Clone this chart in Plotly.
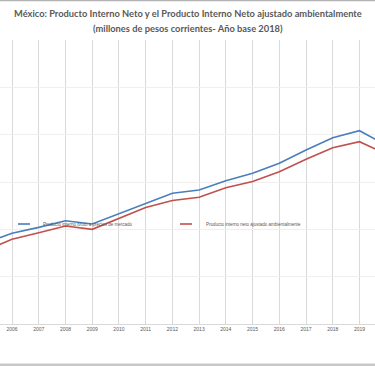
import plotly.graph_objects as go

years = list(range(2005, 2021))
pib_mercado = [8.55e6, 9.58e6, 10.21e6, 10.91e6, 10.56e6, 11.65e6, 12.72e6, 13.81e6,
               14.15e6, 15.14e6, 15.92e6, 16.98e6, 18.38e6, 19.68e6, 20.42e6, 18.88e6]
pin_ajustado = [7.77e6, 8.95e6, 9.64e6, 10.35e6, 10.00e6, 11.17e6, 12.31e6, 13.05e6,
                13.38e6, 14.40e6, 15.05e6, 16.09e6, 17.40e6, 18.62e6, 19.26e6, 17.95e6]
tick_years = list(range(2006, 2020))
name_blue = "Producto interno bruto a precios de mercado"
name_red = "Producto interno neto ajustado ambientalmente"
title1 = "México: Producto Interno Neto y el Producto Interno Neto ajustado ambientalmente"
title2 = "(millones de pesos corrientes- Año base 2018)"

BLUE = "#4a7ebb"
RED = "#c0504d"
GRAY_TXT = "#595959"

fig = go.Figure()
fig.add_trace(go.Scatter(x=years, y=pib_mercado, mode="lines", name=name_blue,
                         line=dict(color=BLUE, width=1.6), showlegend=False))
fig.add_trace(go.Scatter(x=years, y=pin_ajustado, mode="lines", name=name_red,
                         line=dict(color=RED, width=1.6), showlegend=False))

H = 284.0  # plot height px
def py(ypx):
    return (324 - ypx) / H

W = 375.0
fig.update_layout(
    width=375, height=366,
    margin=dict(l=0, r=0, t=40, b=42),
    paper_bgcolor="white", plot_bgcolor="white",
    xaxis=dict(range=[2005.551, 2019.58], tickvals=tick_years,
               ticktext=[str(y) for y in tick_years],
               showgrid=True, gridcolor="#d9d9d9", gridwidth=1,
               showline=True, linecolor="#d9d9d9", linewidth=1,
               ticks="", zeroline=False,
               tickfont=dict(family="Liberation Sans, Arial", size=5, color=GRAY_TXT)),
    yaxis=dict(range=[0, 30e6], dtick=5e6, showticklabels=False,
               showgrid=True, gridcolor="#efefef", gridwidth=1, zeroline=False),
    font=dict(family="Liberation Sans, Arial", color=GRAY_TXT),
)

# titles
fig.add_annotation(text=f"<b>{title1}</b>", xref="paper", yref="paper", x=0.5, y=py(14),
                   xanchor="center", yanchor="middle", showarrow=False,
                   font=dict(family="Lato", size=9.3, color=GRAY_TXT))
fig.add_annotation(text=f"<b>{title2}</b>", xref="paper", yref="paper", x=0.5, y=py(29),
                   xanchor="center", yanchor="middle", showarrow=False,
                   font=dict(family="Lato", size=9.3, color=GRAY_TXT))

# custom legend
fig.add_shape(type="line", xref="paper", yref="paper", x0=18/W, x1=30/W, y0=py(224), y1=py(224),
              line=dict(color=BLUE, width=1.6))
fig.add_shape(type="line", xref="paper", yref="paper", x0=180/W, x1=192/W, y0=py(224), y1=py(224),
              line=dict(color=RED, width=1.6))
fig.add_annotation(text=name_blue, xref="paper", yref="paper", x=41/W, y=py(224),
                   xanchor="left", yanchor="middle", showarrow=False,
                   font=dict(family="Liberation Sans, Arial", size=4.5, color=GRAY_TXT))
fig.add_annotation(text=name_red, xref="paper", yref="paper", x=204/W, y=py(224),
                   xanchor="left", yanchor="middle", showarrow=False,
                   font=dict(family="Liberation Sans, Arial", size=4.5, color=GRAY_TXT))

# frame borders (top gray line, bottom gray band)
fig.add_shape(type="line", xref="paper", yref="paper", x0=0, x1=1, y0=py(0.5), y1=py(0.5),
              line=dict(color="#b4b4b4", width=1.5))
fig.add_shape(type="rect", xref="paper", yref="paper", x0=0, x1=1, y0=py(366), y1=py(363.5),
              line=dict(width=0), fillcolor="#c8c8c8")

fig.write_html("out.html", config={"displayModeBar": False, "staticPlot": True},
               post_script="document.body.style.margin='0';document.body.style.overflow='hidden';")
